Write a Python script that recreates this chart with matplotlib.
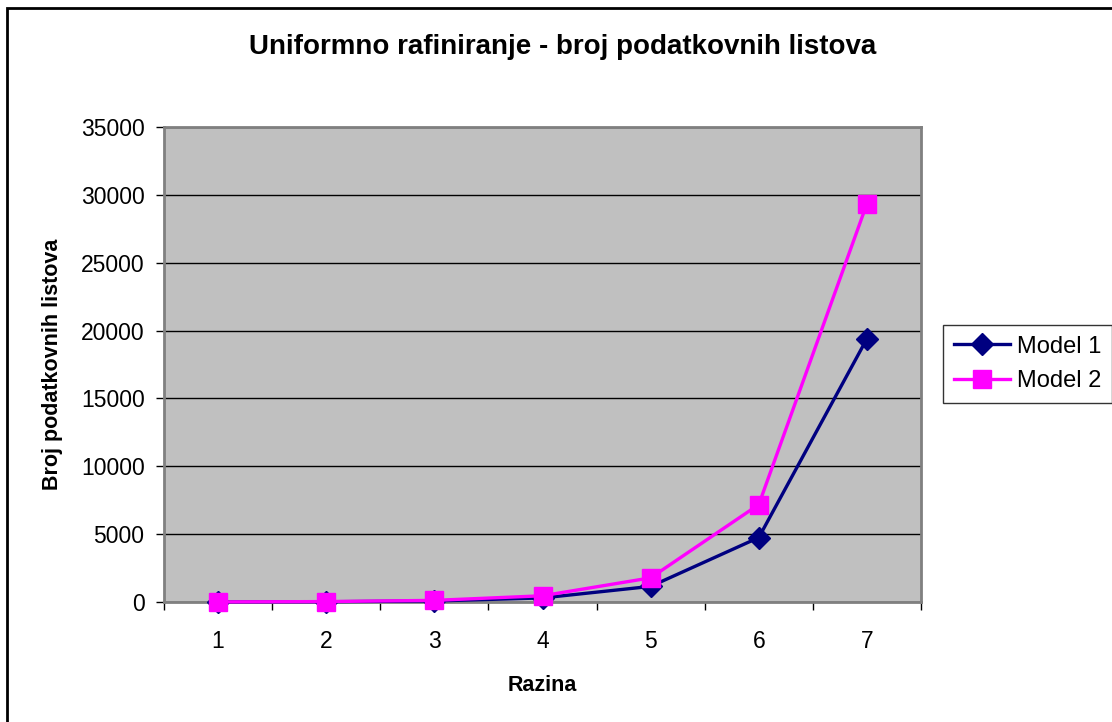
import numpy as np
import matplotlib
matplotlib.use('Agg')
import matplotlib.pyplot as plt
from matplotlib.patches import Rectangle

# data
levels = [1, 2, 3, 4, 5, 6, 7]
model1 = [4, 19, 76, 300, 1150, 4750, 19400]
model2 = [7, 30, 120, 460, 1780, 7180, 29350]
yticks = [0, 5000, 10000, 15000, 20000, 25000, 30000, 35000]

plt.rcParams['font.family'] = ['Liberation Sans', 'DejaVu Sans']

fig = plt.figure(figsize=(11.12, 7.22), dpi=100)
ax = fig.add_axes([164/1112, 1 - 602/722, 757/1112, 475/722])
ax.set_facecolor('#C0C0C0')

# outer chart frame
fig.patches.append(Rectangle((7/1112, -0.02), 1.1, 1 - 8/722 + 0.02, transform=fig.transFigure,
                             fill=False, edgecolor='black', linewidth=2))

ax.plot(levels, model1, color='#000080', linewidth=2.4, marker='D', markersize=11,
        label='Model 1', zorder=3, clip_on=False)
ax.plot(levels, model2, color='#FF00FF', linewidth=2.4, marker='s', markersize=13,
        label='Model 2', zorder=4, clip_on=False)

ax.set_xlim(0.5, 7.5)
ax.set_ylim(0, 35000)
ax.set_yticks(yticks)
ax.set_yticklabels([str(v) for v in yticks], fontsize=16.5)
ax.yaxis.grid(True, color='black', linewidth=1)
ax.set_axisbelow(True)

# category labels centred, tick marks between categories
ax.set_xticks(levels)
ax.set_xticklabels([str(v) for v in levels], fontsize=16.5)
ax.tick_params(axis='x', length=0, pad=20)
ax.set_xticks(np.arange(0.5, 8, 1), minor=True)
ax.tick_params(axis='x', which='minor', length=6, width=1, color='black', direction='out')
ax.tick_params(axis='y', length=6, width=1, color='black', direction='out', pad=8)

for s in ax.spines.values():
    s.set_color('#808080')
    s.set_linewidth(2)

ax.set_xlabel('Razina', fontsize=15.5, fontweight='bold', labelpad=16)
ax.set_ylabel('Broj podatkovnih listova', fontsize=15.5, fontweight='bold', labelpad=13)
fig.text(563/1112, 1 - 47/722, 'Uniformno rafiniranje - broj podatkovnih listova',
         ha='center', va='center', fontsize=20, fontweight='bold')

leg = ax.legend(loc='center left', bbox_to_anchor=(943/1112, 1 - 364/722),
                bbox_transform=fig.transFigure, fontsize=17, frameon=True, fancybox=False,
                edgecolor='black', handlelength=2.4, borderpad=0.45, labelspacing=0.55,
                handletextpad=0.3, borderaxespad=0)
leg.get_frame().set_linewidth(1)

fig.savefig('out.png', dpi=100)
